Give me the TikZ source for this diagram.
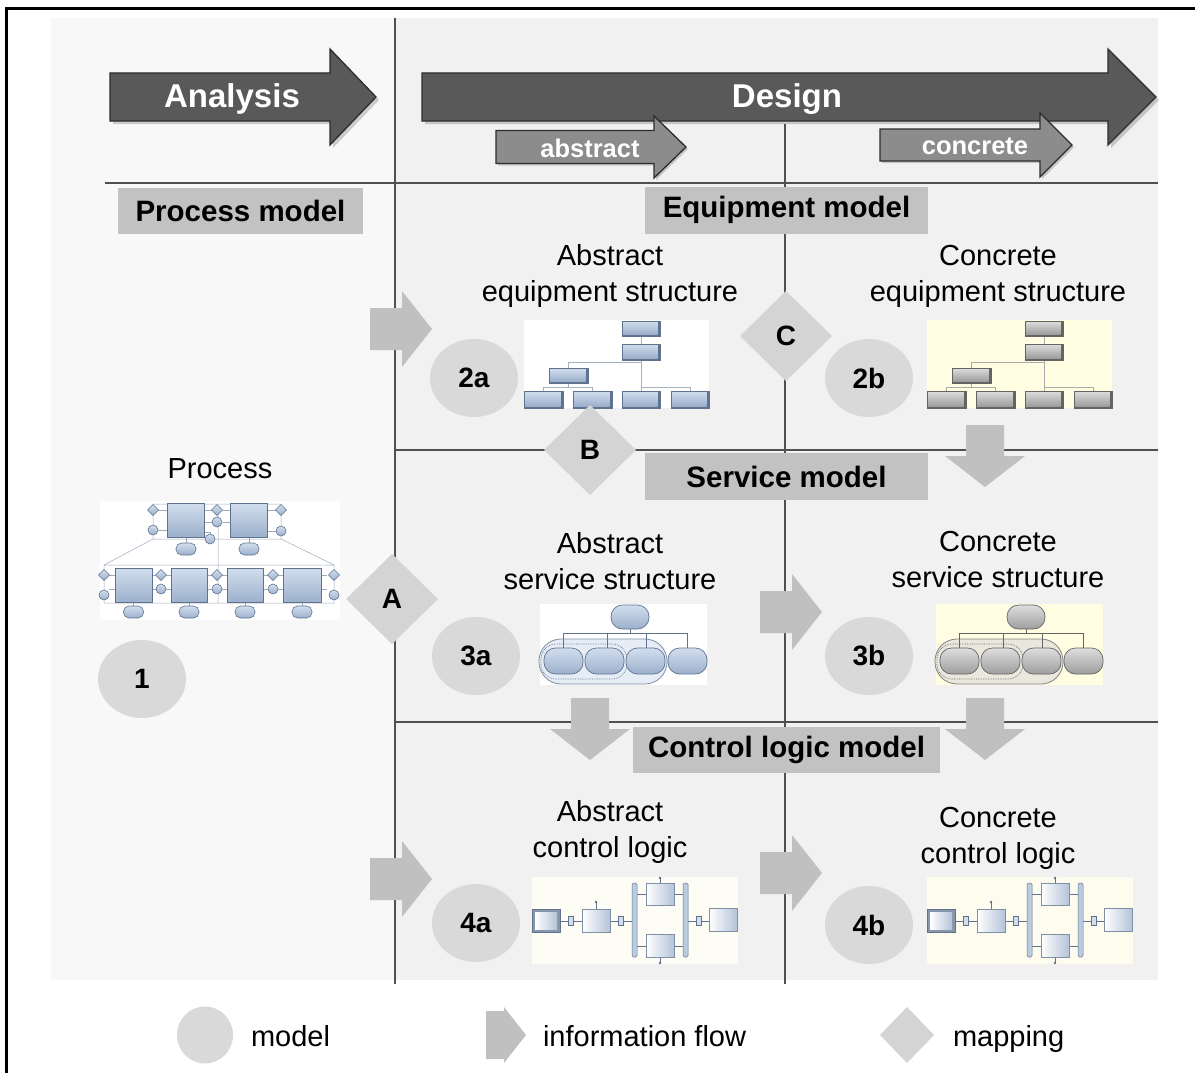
\documentclass[tikz,border=0pt]{standalone}
\usepackage{fontspec}
\setmainfont{Liberation Sans}
\usetikzlibrary{shapes.geometric}

\definecolor{panelL}{RGB}{248,248,248}
\definecolor{panelR}{RGB}{241,241,241}
\definecolor{gridcol}{RGB}{80,80,80}
\definecolor{phasefill}{RGB}{89,89,89}
\definecolor{phaseedge}{RGB}{45,45,45}
\definecolor{subfill}{RGB}{140,140,140}
\definecolor{labelfill}{RGB}{194,194,194}
\definecolor{flowfill}{RGB}{192,192,192}
\definecolor{mapfill}{RGB}{212,212,212}
\definecolor{modelfill}{RGB}{217,217,217}
\definecolor{bluetop}{RGB}{210,222,238}
\definecolor{bluebot}{RGB}{156,176,204}
\definecolor{blueedge}{RGB}{95,115,142}
\definecolor{greytop}{RGB}{222,222,222}
\definecolor{greybot}{RGB}{158,158,158}
\definecolor{greyedge}{RGB}{100,100,100}
\definecolor{paperY}{RGB}{255,253,226}
\definecolor{paperC}{RGB}{253,253,246}
\definecolor{paperCY}{RGB}{253,252,238}
\definecolor{beige}{RGB}{234,231,220}

\newcommand\fsz[2]{\fontsize{#1}{#2}\selectfont}

% block arrow: left x, head start x, tip x, centre y, body half height, head half height, style
\newcommand\bigarrow[7]{\path[#7] (#1,#4-#5) -- (#2,#4-#5) -- (#2,#4-#6) -- (#3,#4)
  -- (#2,#4+#6) -- (#2,#4+#5) -- (#1,#4+#5) -- cycle;}

% information flow arrows, given by their tip
\newcommand\flowR[2]{\fill[flow] (#1-62,#2-21) -- (#1-30,#2-21) -- (#1-30,#2-38) -- (#1,#2)
  -- (#1-30,#2+38) -- (#1-30,#2+21) -- (#1-62,#2+21) -- cycle;}
\newcommand\flowD[2]{\fill[flow] (#1-19,#2-62) -- (#1+19,#2-62) -- (#1+19,#2-31) -- (#1+40,#2-31)
  -- (#1,#2) -- (#1-40,#2-31) -- (#1-19,#2-31) -- cycle;}

% equipment tree sketch: x, y, backdrop, face style, edge colour
\newcommand\equipicon[5]{%
  \begin{scope}[shift={(#1,#2)}]
    \fill[#3] (0,0) rectangle (185,88);
    \draw[#5!55, line width=0.6pt] (117,16)--(117,24) (117,40)--(117,71) (44,48)--(44,42)--(117,42)
      (44,63)--(44,67) (19,71)--(19,67)--(68,67)--(68,71) (117,67)--(166,67)--(166,71);
    \foreach \a/\b/\c/\d in {98/1/136/16, 98/24/136/40, 25/48/64/63, 0/71/39/88, 49/71/88/88, 98/71/136/88, 147/71/185/88}{
      \fill[#5] (\a,\b) rectangle (\c,\d);
      \shade[#4] (\a,\b) rectangle (\c-2.5,\d-2);
      \draw[#5, line width=0.5pt] (\a,\b) rectangle (\c,\d);
    }
  \end{scope}}

% service structure sketch: x, y, backdrop, pill style, container fill, edge colour
\newcommand\serviceicon[6]{%
  \begin{scope}[shift={(#1,#2)}]
    \fill[#3] (0,0) rectangle (167,81);
    \draw[#6!80, line width=0.8pt, fill=#5, rounded corners=22pt] (-1,35) rectangle (127,80);
    \draw[#6, line width=0.5pt] (90,25)--(90,29) (23,29)--(147,29)
      (23,29)--(23,44) (67,29)--(67,44) (106,29)--(106,44) (147,29)--(147,44);
    \draw[#6, densely dotted, line width=0.7pt, rounded corners=15pt] (1,40) rectangle (87,75);
    \foreach \a/\b/\c/\d in {71/1/109/25, 4/44/43/70, 45/44/84/70, 86/44/125/70, 128/44/167/70}
      \draw[#4, rounded corners=11.5pt] (\a,\b) rectangle (\c,\d);
  \end{scope}}

% control logic sketch: x, y, backdrop
\newcommand\controlicon[3]{%
  \begin{scope}[shift={(#1,#2)}]
    \fill[#3] (0,0) rectangle (206,87);
    \draw[blueedge, line width=0.5pt] (28,44)--(100,44) (105,17)--(151,17) (105,69)--(151,69) (155,44)--(177,44)
      (64,32)--(64,25) (128,6)--(128,1) (128,80)--(128,86);
    \fill[blueedge] (64,25) circle (1.3) (128,1) circle (1.3) (128,86) circle (1.3);
    \foreach \a/\b/\c/\d in {50/32/78/55, 114/6/142/28, 114/57/142/80, 177/31/205/54}{
      \fill[blueedge!60] (\a+1.2,\b+1.2) rectangle (\c+1.2,\d+1.2);
      \shade[ctrlface] (\a,\b) rectangle (\c,\d);
      \draw[blueedge!80, line width=0.5pt] (\a,\b) rectangle (\c,\d);
    }
    \fill[blueedge!75] (0,32) rectangle (28,55);
    \shade[ctrlface] (3,35) rectangle (25,52);
    \draw[blueedge, line width=0.5pt] (0,32) rectangle (28,55);
    \foreach \a in {36,86,164}
      \draw[fill=bluetop, draw=blueedge, line width=0.5pt] (\a,39) rectangle (\a+5,48);
    \draw[fill=bluetop!60!bluebot, draw=blueedge, line width=0.5pt, rounded corners=1.5pt]
      (100,6) rectangle (105,80) (151,6) rectangle (156,80);
  \end{scope}}

\begin{document}
\begin{tikzpicture}[x=1pt,y=-1pt,
  every node/.style={inner sep=0pt, outer sep=0pt},
  gridline/.style={draw=gridcol, line width=2pt},
  phase/.style={fill=phasefill, draw=phaseedge, line width=1.3pt},
  subphase/.style={fill=subfill, draw=phaseedge, line width=1.3pt},
  castshadow/.style={fill=black, opacity=0.18},
  phasetext/.style={text=white, font=\fsz{33}{40}\bfseries},
  subtext/.style={text=white, font=\fsz{25.5}{30}\bfseries},
  section/.style={fill=labelfill, font=\fsz{29.5}{35}\bfseries},
  caption/.style={align=center, font=\fsz{29}{36}},
  model/.style={ellipse, fill=modelfill, minimum width=88pt, minimum height=78pt, font=\fsz{28}{32}\bfseries},
  mapping/.style={diamond, fill=mapfill, minimum width=92pt, minimum height=90pt, font=\fsz{28}{32}\bfseries},
  flow/.style={fill=flowfill},
  legendtext/.style={anchor=base west, font=\fsz{29}{34}},
  blueface/.style={top color=bluetop, bottom color=bluebot},
  greyface/.style={top color=greytop, bottom color=greybot},
  bluepill/.style={top color=bluetop, bottom color=bluebot, draw=blueedge, line width=0.7pt},
  greypill/.style={top color=greytop, bottom color=greybot, draw=greyedge, line width=0.7pt},
  ctrlface/.style={left color=white, right color=bluebot!75!white},
  procbox/.style={top color=bluetop, bottom color=bluebot, draw=blueedge, line width=0.6pt},
  proclink/.style={draw=blueedge!60, line width=0.5pt}]

\useasboundingbox (0,0) rectangle (1195,1073);
\fill[white] (0,0) rectangle (1195,1073);

% backdrop of the two phases
\fill[panelL] (51,18) rectangle (395,980);
\fill[panelR] (395,18) rectangle (1158,980);
\draw[black, line width=3pt] (6.5,1073) -- (6.5,8.5) -- (1195,8.5);

% grid
\draw[gridline] (395,18)--(395,984);
\draw[gridline, line width=1.4pt] (785,124)--(785,984);
\draw[gridline] (105,183)--(1158,183);
\draw[gridline] (395,450)--(1158,450);
\draw[gridline] (395,722)--(1158,722);

% phase arrows
\bigarrow{113}{333}{379}{100}{24}{48}{castshadow}
\bigarrow{110}{330}{376}{97}{24}{48}{phase}
\bigarrow{425}{1111}{1159}{100}{24}{48}{castshadow}
\bigarrow{422}{1108}{1156}{97}{24}{48}{phase}
\bigarrow{498}{656}{688}{149}{16.5}{31}{castshadow}
\bigarrow{496}{654}{686}{147}{16.5}{31}{subphase}
\bigarrow{882}{1042}{1074}{147}{16}{32}{castshadow}
\bigarrow{880}{1040}{1072}{145}{16}{32}{subphase}
\node[phasetext] (analysis) at (232,99) {Analysis};
\node[phasetext] (design) at (787,99) {Design};
\node[subtext] (abstract) at (590,148) {abstract};
\node[subtext] (concrete) at (975,146) {concrete};

% model headings
\node[section, minimum width=245pt, minimum height=46pt] (procmodel) at (240.5,211) {Process model};
\node[section, minimum width=283pt, minimum height=47pt] (equipmodel) at (786.5,210) {Equipment model};
\node[section, minimum width=283pt, minimum height=47pt] (servmodel) at (786.5,476.5) {Service model};
\node[section, minimum width=307pt, minimum height=46pt] (ctrlmodel) at (786.5,750) {Control logic model};

% process sketch
\fill[white] (100,501) rectangle (340,620);
\draw[proclink] (153,504) rectangle (281,539) (104,565) rectangle (334,603)
  (153,539)--(104,565) (281,539)--(334,565) (218,510)--(218,603);
\draw[proclink] (158,510)--(167,510) (158,530)--(167,530) (204,510)--(212,510) (204,522)--(212,522)
  (223,510)--(230,510) (223,522)--(230,522) (268,510)--(276,510) (268,531)--(276,531)
  (204,532)--(210,532)--(210,534) (186,537)--(186,543) (249,537)--(249,543);
\foreach \l in {167,230}
  \draw[procbox] (\l,503) rectangle (\l+37,537);
\foreach \c in {186,249}
  \draw[procbox, rounded corners=5.5pt] (\c-10,543) rectangle (\c+10,555);
\foreach \l/\r in {115/152,171/207,227/263,283/321}{
  \draw[proclink] (\l-6,575)--(\l,575) (\l-6,589)--(\l,589) (\r,575)--(\r+6,575) (\r,589)--(\r+6,589)
    ({(\l+\r)/2},602)--({(\l+\r)/2},606);
  \draw[procbox] (\l,568) rectangle (\r,602);
  \draw[procbox, rounded corners=5.5pt] ({(\l+\r)/2-10},606) rectangle ({(\l+\r)/2+10},618);
}
\foreach \x/\y in {153/510,217/510,281/510,104/575,161/575,217/575,273/575,334/575}
  \draw[procbox] (\x,\y-5.5)--(\x+5.5,\y)--(\x,\y+5.5)--(\x-5.5,\y)--cycle;
\foreach \x/\y in {153/530,217/522,281/531,210/539,104/595,161/589,217/589,273/589,334/595}
  \draw[procbox] (\x,\y) circle (5);

% equipment, service and control sketches
\equipicon{524}{320}{white}{blueface}{blueedge}
\equipicon{927}{320}{paperY}{greyface}{greyedge}
\serviceicon{540}{604}{white}{bluepill}{bluetop!55}{blueedge}
\serviceicon{936}{604}{paperY}{greypill}{beige}{greyedge}
\controlicon{532}{877}{paperC}
\controlicon{927}{877}{paperCY}

% information flow
\flowR{432}{329}
\flowR{432}{879}
\flowR{822}{612}
\flowR{822}{873}
\flowD{985}{487}
\flowD{590}{760}
\flowD{985}{760}

% mappings
\node[mapping] (mapA) at (392,599) {A};
\node[mapping] (mapB) at (590,450) {B};
\node[mapping] (mapC) at (786,336) {C};

% models
\node[model] (m1) at (142,679) {1};
\node[model] (m2a) at (474,378) {2a};
\node[model] (m2b) at (869,378) {2b};
\node[model] (m3a) at (476,656) {3a};
\node[model] (m3b) at (869,656) {3b};
\node[model] (m4a) at (476,923) {4a};
\node[model] (m4b) at (869,925) {4b};

% captions
\node[caption] (proccap) at (220,469) {Process};
\node[caption] (absequip) at (610,276) {Abstract\\equipment structure};
\node[caption] (conequip) at (998,276) {Concrete\\equipment structure};
\node[caption] (absserv) at (610,561) {Abstract\\service structure};
\node[caption] (conserv) at (998,560) {Concrete\\service structure};
\node[caption] (absctrl) at (610,832) {Abstract\\control logic};
\node[caption] (conctrl) at (998,838) {Concrete\\control logic};

% legend
\node[model, minimum width=56pt, minimum height=57pt] (legmodel) at (205,1035) {};
\node[legendtext] (legmodeltxt) at (251,1046) {model};
\fill[flow] (486,1011)--(504,1011)--(504,1007)--(526,1035)--(504,1063)--(504,1059)--(486,1059)--cycle;
\node[legendtext] (legflowtxt) at (543,1046) {information flow};
\node[mapping, minimum width=54pt, minimum height=56pt] (legmap) at (907,1035) {};
\node[legendtext] (legmaptxt) at (953,1046) {mapping};

\end{tikzpicture}
\end{document}
